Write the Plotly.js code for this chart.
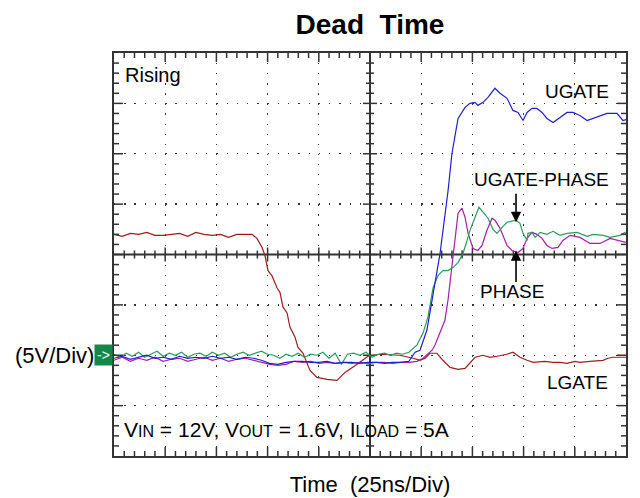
<!DOCTYPE html>
<html><head><meta charset="utf-8">
<script src="https://cdn.plot.ly/plotly-3.0.1.min.js"></script>
<style>html,body{margin:0;padding:0;background:#fff;} #chart{width:640px;height:498px;}</style>
</head><body><div id="chart"></div>
<script>
// Time in ns (25 ns/div), voltage in V (5 V/div), ground marker at 0 V
const tUgate=[0,4,8,12,16,20,24,28,32,36,40,44,48,52,56,60,64,68,72,76,80,84,88,92,96,100,104,108,112,116,120,124,128,132,136,140,144,147,149.4,152.8,159.2,163.1,165,168,171.4,173.8,176.3,177.7,180.2,182.6,186,188.5,191.9,194.8,197.3,199.7,201.7,204.1,206.5,209,211.4,214.4,217.8,221.2,224.1,227.5,231,233.9,240.7,245.6,248.5,250];
const vUgate=[-0.3,-0.1,-0.4,-0.2,0.0,-0.3,-0.2,-0.4,-0.1,-0.3,-0.2,-0.3,-0.1,-0.3,-0.2,-0.4,-0.2,-0.3,-0.5,-0.8,-0.9,-0.7,-0.6,-0.6,-0.7,-0.7,-0.6,-0.8,-0.7,-0.7,-0.8,-0.7,-0.7,-0.8,-0.7,-0.7,-0.6,0.3,0.5,2.5,10.1,16.3,20.0,23.5,24.6,25.0,25.1,24.8,25.1,25.6,26.5,26.0,25.5,24.3,24.1,23.3,24.1,24.5,24.5,24.1,23.5,23.1,23.6,24.1,24.1,23.8,23.3,23.5,24.0,24.0,23.3,23.4];

const tLgate=[0,4,8,12,16,20,24,28,32,36,40,44,48,52,56,60,64,67.4,69.8,72.3,73.7,75.2,77.1,79.6,81.1,82.5,84.5,85.9,88.4,89.8,92.3,94.2,95.7,99.1,104.0,108.9,112.8,118.7,124.0,129.9,139.6,146.0,149.4,151.9,154.3,157.7,160.6,164.1,168.0,171.4,173.8,176.3,180.2,183.6,187.0,191.9,194.8,198.2,201.7,204.6,210.4,214.4,217.8,221.2,225.1,227.5,232.4,238.8,241.2,243.7,247.1,250];
const vLgate=[12.0,11.8,12.1,12.0,12.2,11.9,11.9,12.0,12.1,11.8,12.2,12.0,11.9,12.0,11.7,12.0,12.0,12.0,11.6,10.7,9.9,8.4,7.9,6.7,6.2,4.8,4.2,2.8,1.8,0.8,0.2,-0.8,-1.5,-2.2,-2.4,-2.5,-1.7,-0.9,-0.1,0.1,0.0,-0.3,-0.5,-0.3,0.2,0.2,-0.5,-1.2,-1.4,-1.3,-0.8,-0.2,0.0,-0.2,-0.1,0.1,0.3,-0.2,-0.5,-0.7,-0.6,-0.7,-0.7,-0.8,-0.6,-0.7,-0.6,-0.5,-0.3,-0.2,-0.2,-0.2];

const tUgPh=[0,3,6,9,12,15,18,21,24,27,30,33,36,39,42,45,48,51,54,57,60,63,66,69,72,75,78,81,84,87,90,93,96,99,102,105,108,111,114,117,120,123,126,129,132,135,138,141,144,147.9,150.9,153.3,155.8,158.2,160.6,163.1,165.5,168.0,170.4,172.4,173.8,176.3,178.2,180.2,182.6,185.1,187.0,189.5,191.9,196.3,198.2,199.7,201.7,202.1,204.1,205.6,208.0,211.4,214.4,217.8,221.2,226.1,231.0,233.9,238.8,242.2,247.1,249.5,250];
const vUgPh=[0.1,-0.2,0.2,-0.1,0.3,-0.2,0.1,0.4,-0.1,0.2,0.0,0.3,-0.2,0.1,0.2,-0.1,0.3,0.0,0.2,-0.2,0.1,0.3,0.0,0.2,0.4,0.1,0.0,-0.3,0.1,-0.1,0.2,-0.2,0.1,0.0,0.3,-0.3,0.2,-0.9,0.1,0.2,0.0,0.3,-0.2,0.1,0.2,0.0,0.2,0.1,0.3,1.0,2.2,3.8,6.7,7.9,8.4,8.4,8.7,9.2,10.1,11.4,12.4,13.7,14.7,14.2,13.6,12.5,12.1,12.7,13.2,13.4,13.1,12.1,11.4,12.1,12.2,11.7,12.2,12.0,12.3,11.9,12.1,12.2,11.8,12.0,11.9,11.7,11.9,12.2,12.0];

const tPhase=[0,4,8,12,16,20,24,28,32,36,40,44,48,52,56,60,64,68,72,76,80,84,88,92,96,100,104,108,112,116,120,124,128,132,136,140,144,148,150.9,155.3,156.7,159.2,161.6,163.1,165.0,166.5,168.0,169.9,171.4,172.9,175.3,177.7,179.7,182.1,184.6,186.0,188.5,191.9,194.3,197.3,199.7,201.7,204.1,206.5,209.0,211.4,213.9,216.8,219.2,222.7,227.5,232.4,237.3,242.2,246.1,250];
const vPhase=[-0.5,-0.2,-0.6,-0.3,-0.5,-0.2,-0.6,-0.4,-0.3,-0.6,-0.4,-0.2,-0.5,-0.3,-0.6,-0.4,-0.3,-0.5,-0.7,-0.9,-1.0,-0.9,-0.6,-0.7,-0.6,-0.8,-0.7,-0.8,-0.7,-0.8,-0.7,-0.8,-0.7,-0.7,-0.8,-0.7,-0.7,-0.6,-0.3,0.5,1.0,2.2,3.5,5.5,8.9,11.9,14.1,14.6,13.7,12.1,10.6,10.4,10.9,12.4,13.6,13.4,12.6,10.9,10.4,10.2,10.6,11.6,12.2,12.0,11.6,10.9,10.6,10.7,11.4,11.9,11.7,11.1,11.1,11.6,11.4,11.2];

const FONT='Arial, "Liberation Sans", sans-serif';
const AX='#333333';

const traces=[
  {x:tLgate,y:vLgate,name:'LGATE',mode:'lines',line:{color:'#9c1d1d',width:1.2}},
  {x:tPhase,y:vPhase,name:'PHASE',mode:'lines',line:{color:'#a21fa8',width:1.2}},
  {x:tUgPh,y:vUgPh,name:'UGATE-PHASE',mode:'lines',line:{color:'#2e9a5e',width:1.2}},
  {x:tUgate,y:vUgate,name:'UGATE',mode:'lines',line:{color:'#1f1fd0',width:1.2}}
];

const shapes=[];
const tick=(o,layer)=>Object.assign({type:'line',line:{color:AX,width:1.5},layer:layer||'between'},o);
// centre crosshair
shapes.push(tick({xref:'x',yref:'y',x0:125,x1:125,y0:-10,y1:30,line:{color:AX,width:2}}));
shapes.push(tick({xref:'x',yref:'y',x0:0,x1:250,y0:10,y1:10,line:{color:AX,width:2}}));
for(let t=5;t<250;t+=5){
  const major=(t%25===0);
  shapes.push(tick({xref:'x',yref:'y',ysizemode:'pixel',yanchor:10,x0:t,x1:t,y0:major?-7:-4,y1:major?7:4}));
  shapes.push(tick({xref:'x',yref:'y',ysizemode:'pixel',yanchor:-10,x0:t,x1:t,y0:0,y1:major?9:5},'above'));
  shapes.push(tick({xref:'x',yref:'y',ysizemode:'pixel',yanchor:30,x0:t,x1:t,y0:0,y1:major?-9:-5},'above'));
}
for(let v=-9;v<30;v++){
  const major=(v%5===0);
  shapes.push(tick({xref:'x',yref:'y',xsizemode:'pixel',xanchor:125,y0:v,y1:v,x0:major?-7:-4,x1:major?7:4}));
  shapes.push(tick({xref:'x',yref:'y',xsizemode:'pixel',xanchor:0,y0:v,y1:v,x0:0,x1:major?9:5},'above'));
  shapes.push(tick({xref:'x',yref:'y',xsizemode:'pixel',xanchor:250,y0:v,y1:v,x0:0,x1:major?-9:-5},'above'));
}

const lab=(text,x,y,xa,size)=>({text:text,x:x,y:y,xref:'x',yref:'y',xanchor:xa,yanchor:'middle',showarrow:false,font:{family:FONT,size:size||19,color:'#000'}});

const annotations=[
  lab('Rising',4.4,27.8,'left',20),
  lab('UGATE',242.7,26.2,'right',19),
  lab('UGATE-PHASE',242.7,17.4,'right',19),
  lab('PHASE',194.3,6.3,'center',19),
  lab('LGATE',242.2,-2.7,'right',19),
  lab('V<span style="font-size:16px">IN</span> = 12V, V<span style="font-size:16px">OUT</span> = 1.6V, I<span style="font-size:16px">LOAD</span> = 5A',3.9,-7.4,'left',21),
  {text:'',x:196.3,y:13.2,xref:'x',yref:'y',showarrow:true,ax:0,ay:-30,arrowhead:2,arrowsize:1.3,arrowwidth:1.6,arrowcolor:'#000'},
  {text:'',x:196.3,y:10.4,xref:'x',yref:'y',showarrow:true,ax:0,ay:33,arrowhead:2,arrowsize:1.3,arrowwidth:1.6,arrowcolor:'#000'},
  {text:'->',x:0,xref:'paper',xanchor:'right',xshift:-1,y:0,yref:'y',yanchor:'middle',showarrow:false,bgcolor:'#14884a',width:15,height:18,font:{family:FONT,size:14,color:'#fff'}},
  {text:'(5V/Div)',x:0,xref:'paper',xanchor:'right',xshift:-18,y:0,yref:'y',yanchor:'middle',showarrow:false,font:{family:FONT,size:22,color:'#000'}}
];

const layout={
  width:640,height:498,
  margin:{l:114,r:14,t:53,b:42,pad:0},
  paper_bgcolor:'#fff',plot_bgcolor:'#fff',
  showlegend:false,
  title:{text:'<b>Dead\u00a0 Time</b>',font:{family:FONT,size:28,color:'#000'},x:0.5,xref:'paper',xanchor:'center',y:1-24/498,yref:'container',yanchor:'middle'},
  xaxis:{range:[0,250],tick0:0,dtick:25,showticklabels:false,ticks:'',
    showline:true,linewidth:2,linecolor:AX,mirror:true,showgrid:true,gridcolor:AX,gridwidth:1.3,griddash:'1.3px,8.78px',zeroline:false,
    title:{text:'Time\u00a0 (25ns/Div)',font:{family:FONT,size:22,color:'#000'},standoff:20},automargin:false,fixedrange:true},
  yaxis:{range:[-10,30],tick0:0,dtick:5,showticklabels:false,ticks:'',
    showline:true,linewidth:2,linecolor:AX,mirror:true,showgrid:true,gridcolor:AX,gridwidth:1.3,griddash:'1.3px,8.94px',zeroline:false,
    automargin:false,fixedrange:true},
  shapes:shapes,
  annotations:annotations
};

Plotly.newPlot('chart',traces,layout,{staticPlot:true,displayModeBar:false});
</script>
</body></html>
